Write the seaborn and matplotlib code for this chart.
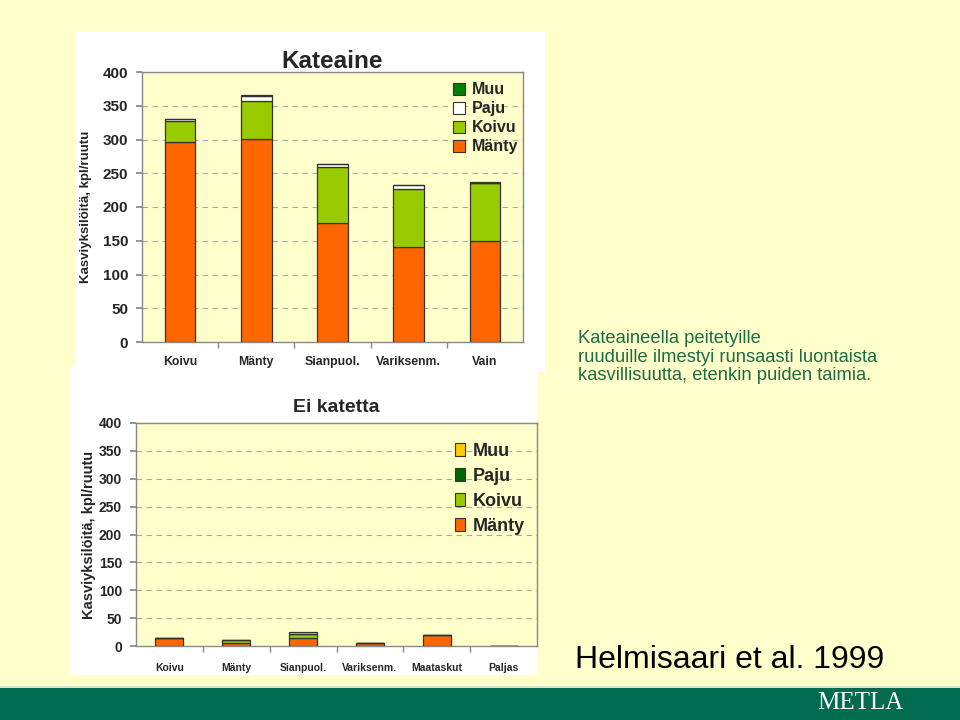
import numpy as np
import pandas as pd
import matplotlib
matplotlib.use("Agg")
import matplotlib.pyplot as plt
import seaborn as sns
from matplotlib.patches import Rectangle, Patch

# ---------------- data ----------------
top_categories = ["Koivu", "Mänty", "Sianpuol.", "Variksenm.", "Vain"]
top_manty = [297, 301, 176, 141, 150]
top_koivu = [30, 56, 83, 85, 85]
top_paju = [3, 8, 4, 7, 1]
top_muu = [0, 1, 0, 0, 1]

bot_categories = ["Koivu", "Mänty", "Sianpuol.", "Variksenm.", "Maataskut", "Paljas"]
bot_manty = [14, 5, 14, 6, 20, 0]
bot_koivu = [0, 6, 7, 0, 0, 0]
bot_paju = [0, 0, 0, 0, 0, 0]
bot_muu = [0, 0, 4, 0, 0, 0]

yticks = [0, 50, 100, 150, 200, 250, 300, 350, 400]
series_names = ["Mänty", "Koivu", "Paju", "Muu"]
top_colors = {"Mänty": "#FF6600", "Koivu": "#99CC00", "Paju": "#FFFFFF", "Muu": "#008000"}
bot_colors = {"Mänty": "#FF6600", "Koivu": "#99CC00", "Paju": "#006600", "Muu": "#FFCC00"}

sns.set_theme(style="white")
plt.rcParams["font.family"] = ["Liberation Sans", "DejaVu Sans"]
narrow = ["Liberation Sans Narrow", "Liberation Sans", "DejaVu Sans"]

SLIDE = "#FFFFCC"
PLOTBG = "#FFFFCC"
fig = plt.figure(figsize=(9.6, 7.2), dpi=100)
fig.patch.set_facecolor(SLIDE)

def fbox(x0, y0, x1, y1, color):
    fig.patches.append(Rectangle((x0 / 960, 1 - y1 / 720), (x1 - x0) / 960, (y1 - y0) / 720,
                                 transform=fig.transFigure, facecolor=color,
                                 edgecolor="none", zorder=-5))

# footer band
fbox(0, 687, 960, 720, "#006B4F")
fbox(0, 686, 960, 688, "#CFE8D8")
# white chart panels
fbox(75, 32, 545, 372, "#FFFFFF")
fbox(70, 365, 537, 675, "#FFFFFF")


def stacked(ax, cats, series, colors, width):
    df = pd.DataFrame({"cat": cats})
    bottom = np.zeros(len(cats))
    for name in series_names:
        vals = np.array(series[name], dtype=float)
        sns.barplot(x=df["cat"], y=vals, bottom=bottom, color=colors[name],
                    edgecolor="#333333", linewidth=0.9, width=width,
                    saturation=1, ax=ax, order=cats, label=name, zorder=3)
        bottom = bottom + vals


def style_axes(ax, n, xpad):
    ax.set_zorder(2)
    ax.set_facecolor(PLOTBG)
    ax.set_ylim(0, 400)
    ax.set_xlim(-0.5, n - 0.5)
    ax.set_yticks(yticks)
    for y in yticks[1:]:
        ax.axhline(y, color="#AAAAAA", lw=0.8, ls=(0, (5, 4)), zorder=1)
    for s in ax.spines.values():
        s.set_color("#888888")
        s.set_linewidth(1.0)
        s.set_visible(True)
    ax.tick_params(axis="y", which="major", left=True, length=4, color="#888888", pad=6)
    ax.tick_params(axis="x", which="major", bottom=False, pad=xpad)
    ax.set_xticks(np.arange(n - 1) + 0.5, minor=True)
    ax.tick_params(axis="x", which="minor", bottom=True, length=4, color="#888888")
    ax.set_xlabel("")


# ---------------- top chart ----------------
ax1 = fig.add_axes([142 / 960, 1 - 342 / 720, 381 / 960, 270 / 720])
stacked(ax1, top_categories,
        {"Mänty": top_manty, "Koivu": top_koivu, "Paju": top_paju, "Muu": top_muu},
        top_colors, 0.4)
style_axes(ax1, len(top_categories), 4)
for lab in ax1.get_yticklabels():
    lab.set_fontsize(11); lab.set_fontweight("bold")
for lab in ax1.get_xticklabels():
    lab.set_fontsize(8.8); lab.set_fontweight("bold")
ax1.set_ylabel("Kasviyksilöitä, kpl/ruutu", fontsize=9.5, fontweight="bold",
               family=narrow, labelpad=8)
ax1.set_title("Kateaine", fontsize=17.5, fontweight="bold", pad=3)
h1 = [Patch(facecolor=top_colors[n], edgecolor="#333333", linewidth=0.8) for n in series_names[::-1]]
ax1.legend(h1, series_names[::-1], loc="upper right", bbox_to_anchor=(1.025, 1.015),
           frameon=False, prop={"weight": "bold", "size": 11.5},
           handlelength=0.8, handleheight=0.8, handletextpad=0.4, labelspacing=0.25)

# ---------------- bottom chart ----------------
ax2 = fig.add_axes([136 / 960, 1 - 646 / 720, 401 / 960, 223 / 720])
stacked(ax2, bot_categories,
        {"Mänty": bot_manty, "Koivu": bot_koivu, "Paju": bot_paju, "Muu": bot_muu},
        bot_colors, 0.42)
style_axes(ax2, len(bot_categories), 6)
for lab in ax2.get_yticklabels():
    lab.set_fontsize(10); lab.set_fontweight("bold"); lab.set_family(narrow)
for lab in ax2.get_xticklabels():
    lab.set_fontsize(7.5); lab.set_fontweight("bold"); lab.set_family(narrow)
ax2.set_ylabel("Kasviyksilöitä, kpl/ruutu", fontsize=10.5, fontweight="bold", labelpad=2)
ax2.set_title("Ei katetta", fontsize=14, fontweight="bold", family=narrow, pad=8)
h2 = [Patch(facecolor=bot_colors[n], edgecolor="#333333", linewidth=0.8) for n in series_names[::-1]]
ax2.legend(h2, series_names[::-1], loc="upper right", bbox_to_anchor=(1.01, 0.985),
           frameon=False, prop={"weight": "bold", "size": 13, "family": narrow},
           handlelength=0.6, handleheight=0.7, handletextpad=0.4, labelspacing=0.45)

# ---------------- slide texts ----------------
fig.text(578 / 960, 1 - 357 / 720,
         "Kateaineella peitetyille\nruuduille ilmestyi runsaasti luontaista\nkasvillisuutta, etenkin puiden taimia.",
         fontsize=13.2, color="#1F6B45", va="center", ha="left", linespacing=1.15)
fig.text(575 / 960, 1 - 660 / 720, "Helmisaari et al. 1999", fontsize=23,
         color="#000000", va="center", ha="left")
fig.text(860 / 960, 1 - 703 / 720, "METLA", fontsize=18, color="white",
         family=["Liberation Serif", "DejaVu Serif"], va="center", ha="center")

fig.savefig("out.png", dpi=100, facecolor=fig.get_facecolor())
